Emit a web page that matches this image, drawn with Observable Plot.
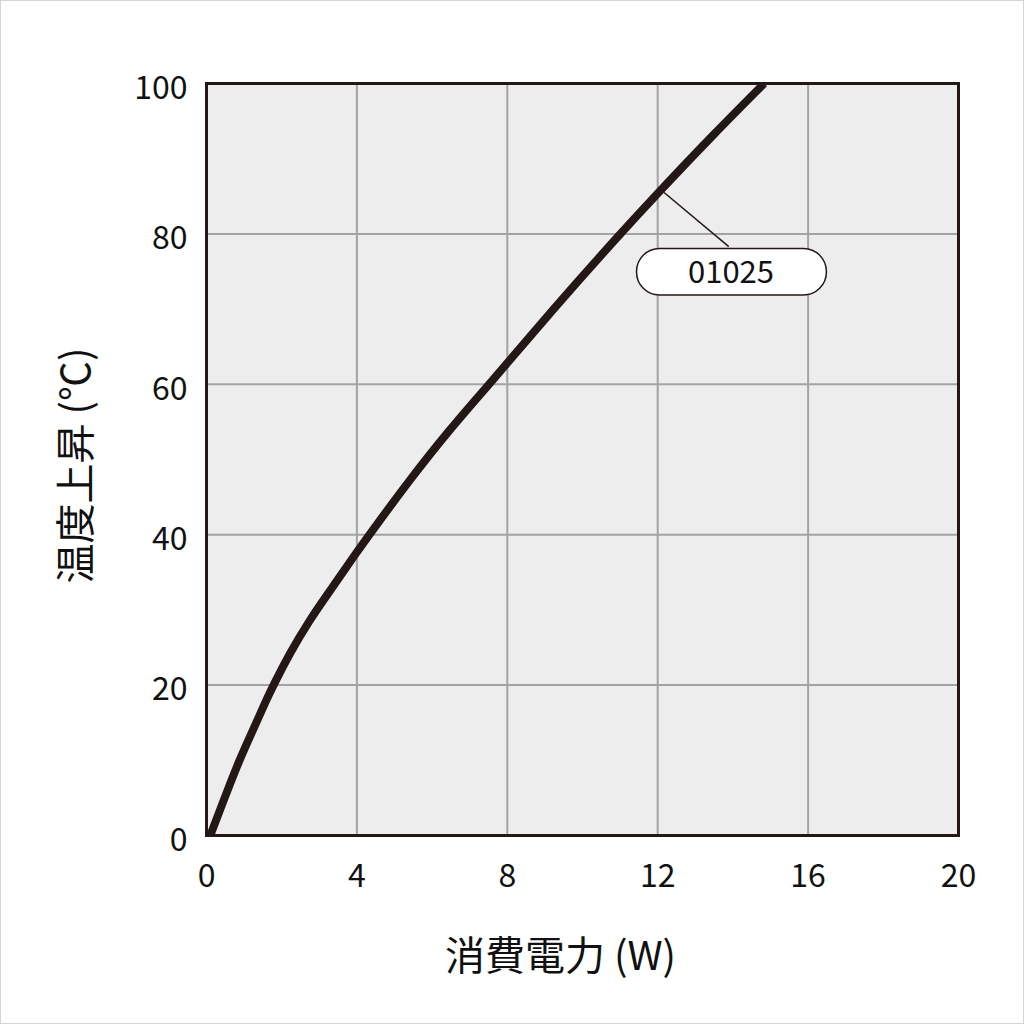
<!DOCTYPE html>
<html>
<head>
<meta charset="utf-8">
<script src="https://cdn.jsdelivr.net/npm/d3@7"></script>
<script src="https://cdn.jsdelivr.net/npm/@observablehq/plot@0.6"></script>
<style>
  html, body { margin: 0; padding: 0; background: #fff; }
  #wrap { position: relative; width: 1024px; height: 1024px; }
  #border { position: absolute; left: 0; top: 0; width: 1024px; height: 1024px; box-sizing: border-box; border: 1px solid #d6d6d6; pointer-events: none; }
</style>
</head>
<body>
<div id="wrap"><div id="chart"></div><div id="border"></div></div>
<script>
// Data
const power = [0.1, 0.52, 0.87, 1.27, 1.58, 1.78, 2.2, 2.73, 3.35, 3.97, 4.33, 5.39, 6.45, 7.52, 9.2, 11.0, 12, 13.4, 14.83];
const tempRise = [0, 5.5, 10, 14.4, 17.9, 20, 24.1, 28.6, 33, 37.5, 40, 47.2, 53.9, 60, 69.9, 80, 85.4, 92.8, 100];
const xTicks = [0, 4, 8, 12, 16, 20];
const yTicks = [0, 20, 40, 60, 80, 100];
const seriesName = "01025";
const xTitle = "消費電力 (W)";
const yTitle = "温度上昇 (℃)";
// annotation (data coordinates)
const leader = [{x1: 12.17, y1: 85.5, x2: 13.89, y2: 78.3}];
const pill = [{x1: 11.45, x2: 16.5, y1: 71.8, y2: 78.0, label: seriesName, cx: 13.95, cy: 74.9}];

const data = power.map((p, i) => ({p, t: tempRise[i]}));
const font = "'Noto Sans CJK JP', 'Noto Sans', sans-serif";
const ink = "#231815";

const chart = Plot.plot({
  width: 1024,
  height: 1024,
  marginLeft: 206,
  marginRight: 66,
  marginTop: 83,
  marginBottom: 189,
  style: {fontFamily: font, color: "#222", background: "transparent"},
  x: {domain: [0, 20]},
  y: {domain: [0, 100]},
  marks: [
    Plot.frame({fill: "#ededed"}),
    Plot.gridX(xTicks, {stroke: "#a3a3a3", strokeOpacity: 1, strokeWidth: 2}),
    Plot.gridY(yTicks, {stroke: "#a3a3a3", strokeOpacity: 1, strokeWidth: 2}),
    Plot.line(data, {x: "p", y: "t", stroke: ink, strokeWidth: 8, curve: "basis", clip: true, strokeLinecap: "butt"}),
    Plot.link(leader, {x1: "x1", y1: "y1", x2: "x2", y2: "y2", stroke: ink, strokeWidth: 1.5}),
    Plot.rect(pill, {x1: "x1", x2: "x2", y1: "y1", y2: "y2", fill: "#fff", stroke: ink, strokeWidth: 1.5, rx: 23}),
    Plot.text(pill, {x: "cx", y: "cy", text: "label", fontSize: 31, fill: "#111", dy: 1}),
    Plot.frame({stroke: ink, strokeWidth: 3}),
    Plot.axisX(xTicks, {tickSize: 0, tickPadding: 29, fontSize: 32, label: null, fill: "#111"}),
    Plot.axisY(yTicks, {tickSize: 0, tickPadding: 19, fontSize: 32, label: null, fill: "#111", dy: 5}),
    Plot.text([xTitle], {frameAnchor: "bottom", dy: 122, dx: -22, fontSize: 40, fill: "#111", lineAnchor: "middle", textAnchor: "middle"}),
    Plot.text([yTitle], {frameAnchor: "left", dx: -129, dy: 6, rotate: -90, fontSize: 40, fill: "#111", lineAnchor: "middle", textAnchor: "middle"})
  ]
});
document.getElementById("chart").appendChild(chart);
</script>
</body>
</html>
